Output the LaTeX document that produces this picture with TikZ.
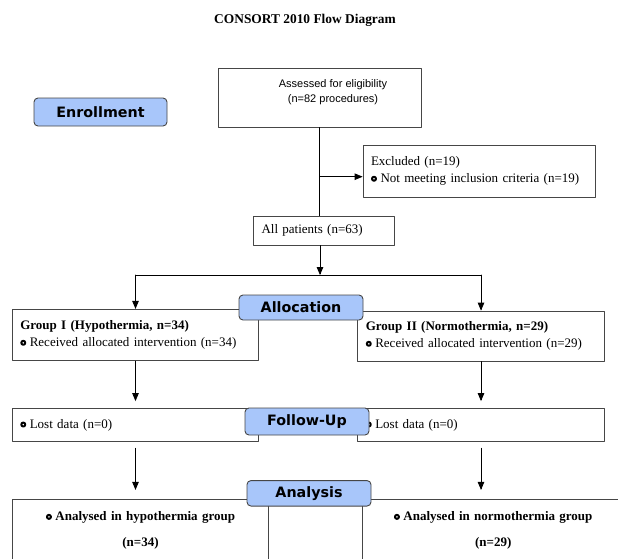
\documentclass[tikz,border=0pt]{standalone}
\usepackage{fontspec}
\setmainfont{Liberation Serif}
\newfontfamily\arialfont{Liberation Sans}
\newfontfamily\stagefont{DejaVu Sans}
\usetikzlibrary{arrows}
\definecolor{stageblue}{RGB}{168,198,250}
\definecolor{edgegray}{RGB}{70,70,70}
\newcommand{\bul}{\tikz[baseline=-0.6ex]\draw[line width=2pt] (0,0) circle (2pt);\hspace{3.5pt}}

\begin{document}
\begin{tikzpicture}[line cap=round,line join=round,>=triangle 45,x=1pt,y=-1pt,
  box/.style={draw=edgegray,line width=0.9pt,rectangle,inner xsep=8pt,inner ysep=0pt,align=left,font=\fontsize{13}{16.5}\selectfont},
  stage/.style={draw=edgegray,fill=stageblue,rounded corners=4pt,line width=0.9pt,inner sep=0pt,font=\stagefont\bfseries\fontsize{14.3}{16}\selectfont},
  conn/.style={line width=0.8pt}]
\clip (0,0) rectangle (618,558);

% title
\node[font=\fontsize{13.4}{15}\selectfont\bfseries] (title) at (305,20) {CONSORT 2010 Flow Diagram};

% boxes
\node[box,minimum width=203pt,minimum height=59pt] (assess) at (319.5,97.5) {};
\node[font=\arialfont\fontsize{11}{15.5}\selectfont,align=center] (assesstxt) at (333,92) {Assessed for eligibility\\(n=82 procedures)};
\node[box,text width=216pt,minimum height=52pt] (excl) at (479,171) {Excluded (n=19)\\\bul Not meeting inclusion criteria (n=19)};
\node[box,text width=124.5pt,minimum height=29pt] (all) at (323.75,230.5) {All patients (n=63)};
\node[box,text width=230.4pt,minimum height=51.4pt] (g1) at (135.5,335) {\textbf{Group I (Hypothermia, n=34)}\\\bul Received allocated intervention (n=34)};
\node[box,text width=230.4pt,minimum height=50pt] (g2) at (481,336) {\textbf{Group II (Normothermia, n=29)}\\\bul Received allocated intervention (n=29)};
\node[box,text width=230.4pt,minimum height=33pt] (lost1) at (135.5,425) {\bul Lost data (n=0)};
\node[box,text width=230.4pt,minimum height=33pt] (lost2) at (481,425) {\bul Lost data (n=0)};
\node[box,align=center,text width=240.4pt,minimum height=62pt,font=\fontsize{13}{26}\selectfont\bfseries] (ana1) at (140.5,530.3) {\bul Analysed in hypothermia group\\(n=34)};
\node[box,align=center,text width=246pt,minimum height=62pt,font=\fontsize{13}{26}\selectfont\bfseries] (ana2) at (493.2,530.3) {\bul Analysed in normothermia group\\(n=29)};

% connectors
\coordinate (exc) at (320,176.7);
\coordinate (split) at (320,275);
\draw[conn] (assess.south) -- (assess.south |- all.north);
\draw[conn,->] (exc) -- (exc -| excl.west);
\draw[conn,->] (all.south -| split) -- (split);
\draw[conn] (split -| g1.north) -- (split -| g2.north);
\draw[conn,->] (split -| g1.north) -- (g1.north);
\draw[conn,->] (split -| g2.north) -- (g2.north);
\draw[conn,->] (g1.south) -- ([yshift=7pt]lost1.north);
\draw[conn,->] (g2.south) -- ([yshift=7pt]lost2.north);
\draw[conn,->] ([yshift=-6.3pt]lost1.south) -- ([yshift=9pt]lost1.south |- ana1.north);
\draw[conn,->] ([yshift=-6.3pt]lost2.south) -- ([yshift=9pt]lost2.south |- ana2.north);

% stage labels
\node[stage,minimum width=133pt,minimum height=28pt] (enrol) at (100.5,112) {Enrollment};
\node[stage,minimum width=124pt,minimum height=25pt] (alloc) at (301,307.5) {Allocation};
\node[stage,minimum width=124pt,minimum height=27pt] (follow) at (307,421.5) {Follow-Up};
\node[stage,minimum width=124pt,minimum height=25.5pt] (analysis) at (309,493.3) {Analysis};
\end{tikzpicture}
\end{document}
